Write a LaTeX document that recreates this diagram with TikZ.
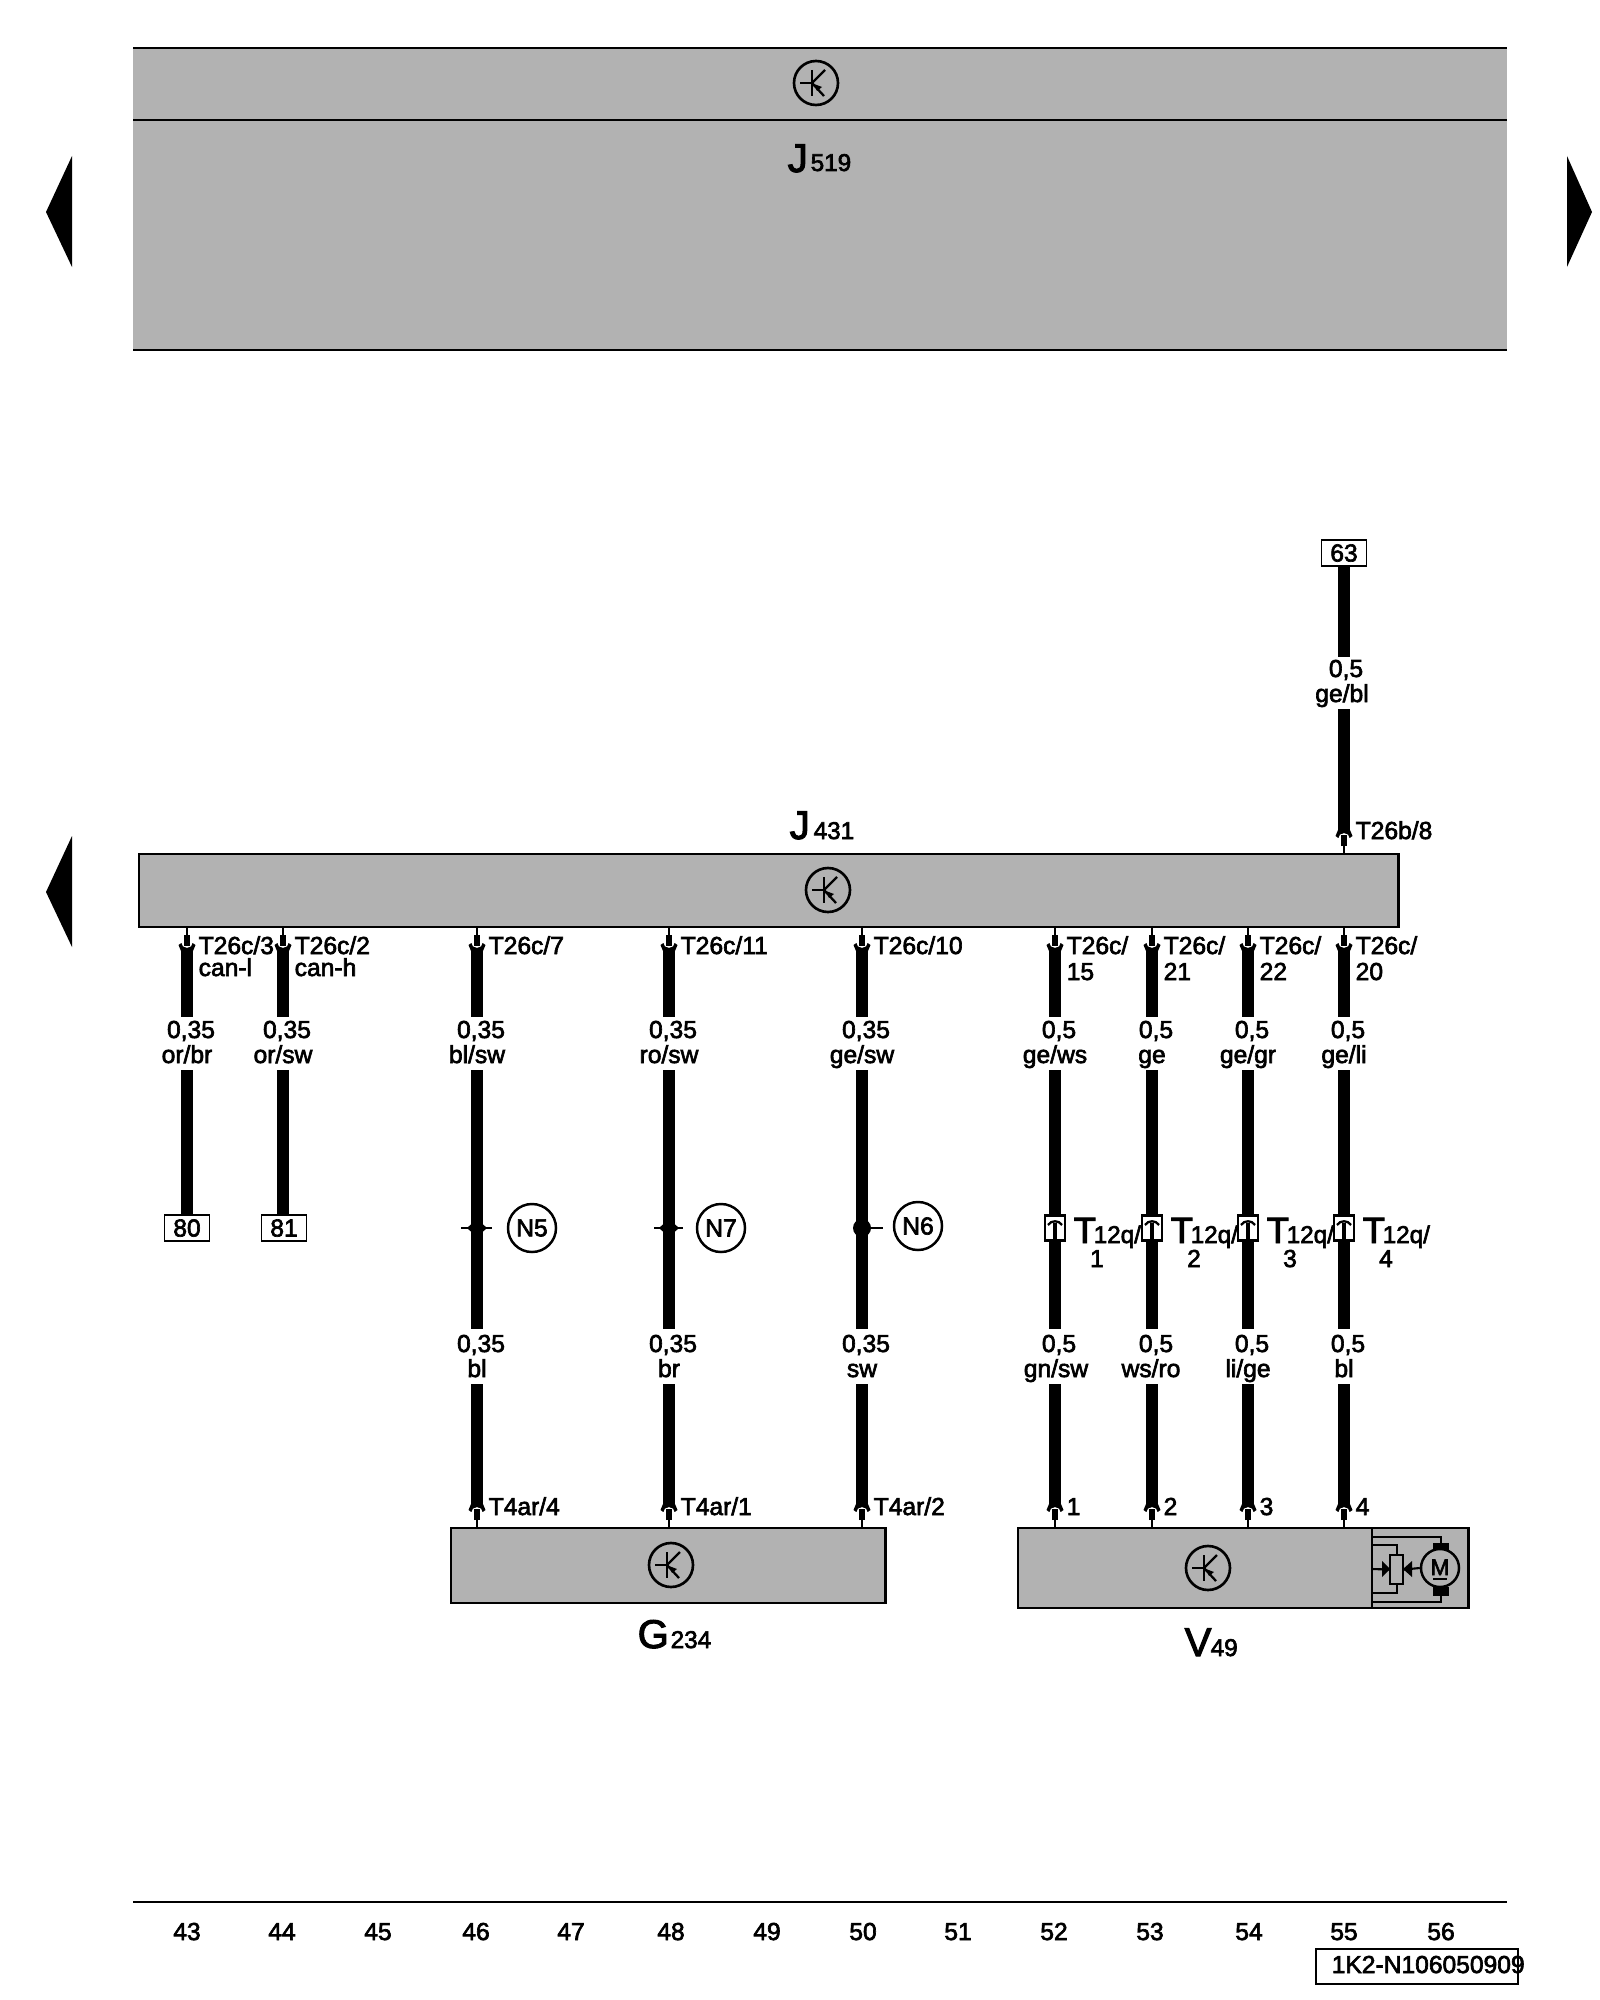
\documentclass[tikz,border=0pt]{standalone}
\usepackage{fontspec}
\setmainfont[FakeBold=2.6]{Liberation Sans}
\usetikzlibrary{calc,positioning}

\definecolor{ecugrey}{HTML}{B2B2B2}
\newcommand{\smalltxt}{\fontsize{7}{8}\selectfont}
\newcommand{\bigtxt}{\fontsize{11.4}{12}\selectfont}
\newcommand{\subtxt}{\fontsize{6.9}{8}\selectfont}

\tikzset{
  ecubox/.style={draw,fill=ecugrey,line width=0.75pt,inner sep=0,outer sep=0,anchor=north west},
  wire/.style={line width=3.4pt},
  txt/.style={font=\smalltxt,inner sep=0,anchor=base},
  txtw/.style={font=\smalltxt,inner sep=0,anchor=base west},
  bigname/.style={font=\bigtxt,inner sep=0,anchor=base west},
  subname/.style={font=\subtxt,inner sep=0,anchor=base west},
  termbox/.style={draw,fill=white,line width=0.5pt,font=\smalltxt,inner sep=0,outer sep=0,minimum width=1.25cm*0.36,minimum height=0.26cm},
  nbadge/.style={draw,fill=white,circle,line width=0.7pt,font=\smalltxt,inner sep=0,minimum size=0.48cm},
  transsym/.pic={
    \draw[line width=0.75pt] (0,0) circle [x radius=22,y radius=22];
    \draw[line width=0.65pt] (-16,0) -- (-4,0);
    \draw[line width=0.65pt] (-4,-13) -- (-4,13);
    \draw[line width=0.65pt] (-4,0) -- (9,-13);
    \draw[line width=0.65pt] (-4,0) -- (8,13);
    \fill (1,8) -- (-2,1) -- (6,4) -- cycle;
  },
  pinshape/.pic={
    \fill (-8.5,18) .. controls (-6,16) .. (-4,16) -- (4,16) .. controls (6,16) .. (8.5,18) -- (6,24) -- (-6,24) -- cycle;
    \draw[white,line width=0.7pt] (-4.5,12) -- (-4.5,15) .. controls (-4.5,21) and (4.5,21) .. (4.5,15) -- (4.5,12);
    \draw[line width=0.5pt] (0,0) -- (0,8);
    \draw[line width=1.5pt] (0,8) -- (0,19);
  },
  connsym/.pic={
    \draw[line width=0.65pt] (-7,-3) .. controls (-4,-8) and (4,-8) .. (7,-3);
    \draw[line width=0.9pt] (0,-5) -- (0,12);
  }
}

\begin{document}
\begin{tikzpicture}[x=0.01cm,y=-0.01cm]
  \useasboundingbox (0,0) rectangle (1600,2000);

  % upper control unit
  \fill[ecugrey] (133,48) rectangle (1507,350);
  \draw[line width=0.75pt] (133,48) -- (1507,48);
  \draw[line width=0.75pt] (133,120) -- (1507,120);
  \draw[line width=0.75pt] (133,350) -- (1507,350);
  \pic at (816,83) {transsym};
  \node[bigname] (j519name) at (787,172) {J};
  \node[subname] (j519sub) at (810,171) {519};

  % page arrows
  \fill[line join=round] (46,212) -- (72,156) -- (72,267) -- cycle;
  \fill[line join=round] (1592,212) -- (1567,156) -- (1567,267) -- cycle;
  \fill[line join=round] (46,892) -- (72,836) -- (72,947) -- cycle;

  % modules
  \node[ecubox,minimum width=12.59cm,minimum height=0.73cm] (j431) at (139,854) {};
  \node[ecubox,minimum width=4.34cm,minimum height=0.75cm] (g234) at (451,1528) {};
  \node[ecubox,minimum width=4.50cm,minimum height=0.80cm] (v49) at (1018,1528) {};
  \pic at (828,890) {transsym};
  \pic at (671,1565) {transsym};
  \pic at (1208,1568) {transsym};
  \node[bigname] (j431name) at (789,839) {J};
  \node[subname] (j431sub) at (813,839) {431};
  \node[bigname] (g234name) at (637,1648) {G};
  \node[subname] (g234sub) at (670,1648) {234};
  \node[bigname] (v49name) at (1184,1656) {V};
  \node[subname] (v49sub) at (1210,1656) {49};

  % wires from the bottom of J431
  \foreach \n/\xw/\pa/\pb/\gu/\cu in {
    1/187/{T26c/3}/{}/{0,35}/{or/br},
    2/283/{T26c/2}/{}/{0,35}/{or/sw},
    3/477/{T26c/7}/{}/{0,35}/{bl/sw},
    4/669/{T26c/11}/{}/{0,35}/{ro/sw},
    5/862/{T26c/10}/{}/{0,35}/{ge/sw},
    6/1055/{T26c/}/15/{0,5}/{ge/ws},
    7/1152/{T26c/}/21/{0,5}/ge,
    8/1248/{T26c/}/22/{0,5}/{ge/gr},
    9/1344/{T26c/}/20/{0,5}/{ge/li}} {
    \coordinate (top\n) at (\xw,927);
    \coordinate (ua\n) at (\xw,1017);
    \coordinate (ub\n) at (\xw,1070);
    \draw[wire] (top\n) ++(0,21) -- (ua\n);
    \pic at (top\n) {pinshape};
    \node[txtw] (pa\n) at (\xw+11,954) {\pa};
    \node[txtw] (pb\n) at (\xw+11,980) {\pb};
    \node[txt] (gu\n) at (\xw+4,1038) {\gu};
    \node[txt] (cu\n) at (\xw,1063) {\cu};
  }
  \node[txtw] (canl) at (198,976) {can-l};
  \node[txtw] (canh) at (294,976) {can-h};

  % terminals
  \node[termbox,anchor=north] (t80) at (187,1215) {80};
  \node[termbox,anchor=north] (t81) at (284,1215) {81};
  \draw[wire] (ub1) -- (ub1 |- t80.north);
  \draw[wire] (ub2) -- (ub2 |- t81.north);

  % wires through the splices to G234 and V49
  \foreach \n/\gl/\cl/\xo in {
    3/{0,35}/bl/0, 4/{0,35}/br/0, 5/{0,35}/sw/0,
    6/{0,5}/{gn/sw}/1, 7/{0,5}/{ws/ro}/-1, 8/{0,5}/{li/ge}/0, 9/{0,5}/bl/0} {
    \coordinate (la\n) at (ub\n |- 0,1329);
    \coordinate (lb\n) at (ub\n |- 0,1384);
    \coordinate (bot\n) at (ub\n |- 0,1528);
    \draw[wire] (ub\n) -- (la\n);
    \draw[wire] (lb\n) -- ($(bot\n)+(0,-21)$);
    \pic[yscale=-1] at (bot\n) {pinshape};
    \node[txt] (gl\n) at ($(ub\n |- 0,1352)+(4,0)$) {\gl};
    \node[txt] (cl\n) at ($(ub\n |- 0,1377)+(\xo,0)$) {\cl};
  }
  \foreach \n/\pl in {3/{T4ar/4},4/{T4ar/1},5/{T4ar/2}} {
    \node[txtw] (pl\n) at ($(bot\n |- 0,1515)+(11,0)$) {\pl};
  }
  \foreach \n/\pl in {6/1,7/2,8/3,9/4} {
    \node[txtw] (pl\n) at ($(bot\n |- 0,1515)+(11,0)$) {\pl};
  }

  % splices
  \coordinate (s3) at (477,1228);
  \coordinate (s4) at (669,1228);
  \coordinate (s5) at (862,1228);
  \draw[line width=0.7pt] (461,1228) -- (492,1228);
  \draw[line width=0.7pt] (654,1228) -- (683,1228);
  \draw[line width=0.7pt] (s5) -- (883,1228);
  \fill (s3) ++(-10,0) -- ++(10,-9) -- ++(10,9) -- ++(-10,9) -- cycle;
  \fill (s4) ++(-10,0) -- ++(10,-9) -- ++(10,9) -- ++(-10,9) -- cycle;
  \node[circle,fill=black,inner sep=0,minimum size=0.18cm] (s5dot) at (s5) {};
  \node[nbadge] (n5) at (532,1228) {N5};
  \node[nbadge] (n7) at (721,1228) {N7};
  \node[nbadge] (n6) at (918,1226) {N6};

  % T12q connectors
  \foreach \n/\xw/\num in {6/1055/1,7/1152/2,8/1248/3,9/1344/4} {
    \node[draw,fill=white,line width=0.6pt,inner sep=0,minimum width=0.20cm,minimum height=0.25cm] (c\n) at (\xw,1228) {};
    \pic at (c\n) {connsym};
    \node[inner sep=0,anchor=base west,font=\fontsize{10.4}{12}\selectfont] (ct\n) at (\xw+18,1243) {T};
    \node[subname] (cs\n) at (\xw+38,1243) {12q/};
    \node[txt] (cn\n) at (\xw+42,1267) {\num};
  }

  % lead from above into J431
  \node[termbox] (t63) at (1344,553) {63};
  \coordinate (pin63) at (1344,854);
  \draw[wire] (t63.south) -- (1344,657);
  \draw[wire] (1344,709) -- ($(pin63)+(0,-21)$);
  \pic[yscale=-1] at (pin63) {pinshape};
  \node[txt] (g63) at (1346,677) {0,5};
  \node[txt] (c63) at (1342,702) {ge/bl};
  \node[txtw] (p63) at (1355,839) {T26b/8};

  % actuator symbol inside V49
  \draw[line width=0.75pt] (1372,1528) -- (1372,1608);
  \draw[line width=0.6pt] (1372,1537) -- (1441,1537) -- (1441,1545);
  \draw[line width=0.6pt] (1372,1602) -- (1441,1602) -- (1441,1594);
  \draw[line width=0.6pt] (1372,1545) -- (1397,1545) -- (1397,1556);
  \draw[line width=0.6pt] (1372,1593) -- (1397,1593) -- (1397,1584);
  \node[draw,fill=ecugrey,line width=0.6pt,inner sep=0,minimum width=0.13cm,minimum height=0.29cm] (pot) at (1396.5,1569.5) {};
  \fill (1433,1543) rectangle (1449,1551);
  \fill (1433,1587) rectangle (1449,1596);
  \node[draw,circle,fill=ecugrey,line width=0.7pt,inner sep=0,minimum size=0.38cm] (motor) at (1440,1568) {};
  \node[txt,font=\fontsize{6.4}{7}\selectfont] (mlab) at (1440,1575) {M};
  \draw[line width=0.6pt] (1433,1579) -- (1447,1579);
  \draw[line width=0.6pt] (1372,1569) -- (pot.west);
  \draw[line width=0.6pt] (pot.east) -- (motor.west);
  \fill (1390,1569) -- (1382,1561) -- (1382,1577) -- cycle;
  \fill (1403,1569) -- (1412,1561) -- (1412,1577) -- cycle;

  % current track numbers
  \coordinate (rulea) at (133,1902);
  \coordinate (ruleb) at (1507,1902);
  \draw[line width=0.65pt] (rulea) -- (ruleb);
  \foreach \num/\xn in {43/187,44/282,45/378,46/476,47/571,48/671,49/767,50/863,51/958,52/1054,53/1150,54/1249,55/1344,56/1441} {
    \node[txt] (n\num) at (\xn,1940) {\num};
  }
  \node[draw,line width=0.65pt,inner sep=0,anchor=north west,minimum width=2.02cm,minimum height=0.35cm] (idbox) at (1315,1948) {};
  \node[txtw] (idtxt) at (1331,1973) {1K2-N106050909};
\end{tikzpicture}
\end{document}
